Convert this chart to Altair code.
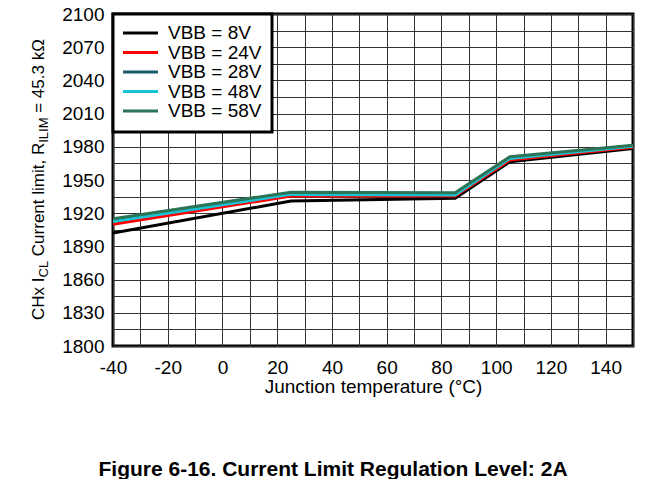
import altair as alt
import pandas as pd

# ---- data ----
temps = [-40, 25, 85, 105, 150]
vbb_8 = [1902, 1931, 1933.5, 1966.5, 1978.5]
vbb_24 = [1910, 1935.5, 1935.5, 1968, 1979.5]
vbb_28 = [1913.5, 1938, 1937.5, 1970, 1981]
vbb_48 = [1912.5, 1937, 1936.5, 1969.5, 1980.5]
vbb_58 = [1915, 1939, 1938.5, 1971, 1981.5]
series_names = ["VBB = 8V", "VBB = 24V", "VBB = 28V", "VBB = 48V", "VBB = 58V"]
series_vals = [vbb_8, vbb_24, vbb_28, vbb_48, vbb_58]
colors = ["#000000", "#ff0000", "#1b5a6b", "#19c3d6", "#2b7556"]

x_ticks = list(range(-40, 151, 10))
y_ticks = list(range(1800, 2101, 15))

rows = []
for name, vals in zip(series_names, series_vals):
    for t, v in zip(temps, vals):
        rows.append({"series": name, "temp": t, "value": v})
df = pd.DataFrame(rows)
legend_df = pd.DataFrame({"series": series_names, "idx": list(range(len(series_names)))})

FONT = "Liberation Sans"
W, H = 520, 332
color_scale = alt.Scale(domain=series_names, range=colors)

lines = alt.Chart(df).mark_line(strokeWidth=3, clip=True).encode(
    x=alt.X("temp:Q",
            scale=alt.Scale(domain=[-40, 150], nice=False, zero=False),
            axis=alt.Axis(values=x_ticks,
                          labelExpr="datum.value % 20 == 0 ? '' + datum.value : ''",
                          labelFlush=False, labelOverlap=False,
                          title="Junction temperature (°C)",
                          titleFontSize=19, titlePadding=0)),
    y=alt.Y("value:Q",
            scale=alt.Scale(domain=[1800, 2100], nice=False, zero=False),
            axis=alt.Axis(values=y_ticks,
                          labelExpr="datum.value % 30 == 0 ? '' + datum.value : ''",
                          labelFlush=False, labelOverlap=False,
                          title=None)),
    color=alt.Color("series:N", scale=color_scale, legend=None),
    order=alt.Order("ord:Q"),
).transform_calculate(
    ord="indexof(%s, datum.series)" % str(series_names)
)

# ---- legend drawn as marks (box, swatches, labels) ----
one = pd.DataFrame({"k": [0]})
leg_box = alt.Chart(one).mark_rect(fill="white", stroke="black", strokeWidth=3).encode(
    x=alt.value(0), x2=alt.value(159), y=alt.value(0), y2=alt.value(118))
leg_y = alt.Y("idx:Q", scale=alt.Scale(domain=[0, 4], range=[19, 97], nice=False, zero=False),
              axis=None)
leg_sw = alt.Chart(legend_df).mark_rule(strokeWidth=3).encode(
    x=alt.value(10), x2=alt.value(45), y=leg_y,
    color=alt.Color("series:N", scale=color_scale, legend=None))
leg_tx = alt.Chart(legend_df).mark_text(align="left", baseline="middle", fontSize=19,
                                        font=FONT, color="black").encode(
    x=alt.value(55), y=leg_y, text="series:N")

# ---- rotated y title with subscripts (spaces handled as gaps, since text is trimmed) ----
NB = "\u00a0"
main_fs, sub_fs = 17, 13
em = {"C": .722, "H": .722, "x": .5, NB: .278, "I": .278, "L": .556, "u": .556,
      "r": .333, "e": .556, "n": .556, "t": .278, "l": .222, "i": .222, "m": .833,
      ",": .278, "R": .722, "M": .833, "=": .584, "4": .556, "5": .556, ".": .278,
      "3": .556, "k": .5, "Ω": .768}
SPACE = .278 * main_fs
pieces = [("CHx" + NB + "I", False, 0), ("CL", True, 0),
          ("Current" + NB + "limit," + NB + "R", False, SPACE),
          ("ILIM", True, 0), ("=" + NB + "45.3" + NB + "kΩ", False, SPACE)]
base_x = -69
y_pos = 306.0
title_layers = []
for txt, sub, gap in pieces:
    fs = sub_fs if sub else main_fs
    y_pos -= gap
    title_layers.append(
        alt.Chart(one).mark_text(text=txt, angle=270, align="left",
                                 baseline="alphabetic", fontSize=fs,
                                 font=FONT, color="black").encode(
            x=alt.value(base_x + (4 if sub else 0)), y=alt.value(y_pos)))
    y_pos -= sum(em.get(c, .55) for c in txt) * fs

caption = alt.Chart(one).mark_text(
    text="Figure 6-16. Current Limit Regulation Level: 2A",
    fontSize=21, fontWeight="bold", font=FONT, align="center",
    baseline="alphabetic", color="black").encode(
    x=alt.value(220), y=alt.value(462))

chart = alt.layer(lines, leg_box, leg_sw, leg_tx, *title_layers, caption).resolve_scale(
    y="independent"
).properties(
    width=W, height=H,
    padding={"left": 105, "top": 6, "right": 20, "bottom": 133},
    autosize=alt.AutoSizeParams(type="none"),
).configure(font=FONT, background="white").configure_view(
    stroke="black", strokeWidth=3
).configure_axis(
    domain=False, ticks=False, grid=True, gridColor="#333333", gridWidth=1,
    gridOpacity=1, labelFontSize=19, labelColor="black", labelFont=FONT,
    titleFont=FONT, titleColor="black", titleFontWeight="normal",
).configure_axisY(labelPadding=9).configure_axisX(labelPadding=12)

chart.save("out.html", embed_options={"renderer": "svg", "actions": False})
